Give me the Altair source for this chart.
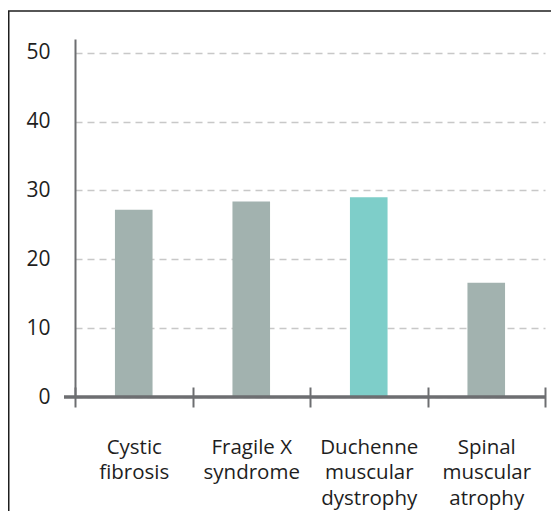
import json
import altair as alt
import pandas as pd

categories = ["Cystic fibrosis", "Fragile X syndrome", "Duchenne muscular dystrophy", "Spinal muscular atrophy"]
label_lines = [["Cystic", "fibrosis"], ["Fragile X", "syndrome"], ["Duchenne", "muscular", "dystrophy"], ["Spinal", "muscular", "atrophy"]]
values = [27.2, 28.4, 29.0, 16.6]
groups = ["other", "other", "highlight", "other"]
y_ticks = [0, 10, 20, 30, 40, 50]

df = pd.DataFrame({"category": categories, "value": values, "group": groups})
one = pd.DataFrame({"a": [0]})

label_expr = "datum.value"
for cat, lines in reversed(list(zip(categories, label_lines))):
    label_expr = f"datum.value == '{cat}' ? {json.dumps(lines)} : ({label_expr})"

W, H = 470, 358
PAD = {"left": 67, "top": 31, "right": 6, "bottom": 114}
FONT = "Open Sans"
AXIS = "#6d6e71"
TEXT = "#1e1e1e"

x_enc = alt.X(
    "category:N", sort=categories,
    scale=alt.Scale(paddingInner=0, paddingOuter=0),
    axis=alt.Axis(title=None, domain=False, labelAngle=0, labelExpr=label_expr,
                  labelFontSize=20.5, labelFont=FONT, labelColor=TEXT, labelLineHeight=25.5,
                  labelPadding=30, tickBand="extent", tickSize=20, tickWidth=2,
                  tickColor=AXIS, offset=-10, grid=False),
)
y_enc = alt.Y(
    "value:Q", scale=alt.Scale(domain=[0, 52], nice=False),
    axis=alt.Axis(title=None, values=y_ticks, ticks=False, tickSize=0, labelPadding=25,
                  labelFontSize=21, labelFont=FONT, labelColor=TEXT,
                  domainColor=AXIS, domainWidth=2, grid=True, gridColor="#c8c8c8",
                  gridDash=[7, 5], gridWidth=1.5),
)

bars = alt.Chart(df).mark_bar(width=alt.RelativeBandSize(0.32)).encode(
    x=x_enc, y=y_enc,
    color=alt.Color("group:N", scale=alt.Scale(domain=["other", "highlight"],
                                               range=["#a2b2af", "#7ecec9"]), legend=None),
)

baseline = alt.Chart(one).mark_rule(color=AXIS, strokeWidth=3.5).encode(
    y=alt.datum(0), x=alt.value(-11), x2=alt.value(W)
)

border_top = alt.Chart(one).mark_rule(color=TEXT, strokeWidth=1.5).encode(
    x=alt.value(-PAD["left"]), x2=alt.value(W + PAD["right"]), y=alt.value(-28)
)
border_left = alt.Chart(one).mark_rule(color=TEXT, strokeWidth=1.5).encode(
    x=alt.value(-PAD["left"] + 0.75), y=alt.value(-28), y2=alt.value(H + PAD["bottom"])
)

chart = alt.layer(bars, baseline, border_top, border_left).properties(
    width=W, height=H, padding=PAD, autosize=alt.AutoSizeParams(type="none"),
    background="white",
).configure_view(stroke=None)

chart.save("out.html", embed_options={"renderer": "svg", "actions": False})
